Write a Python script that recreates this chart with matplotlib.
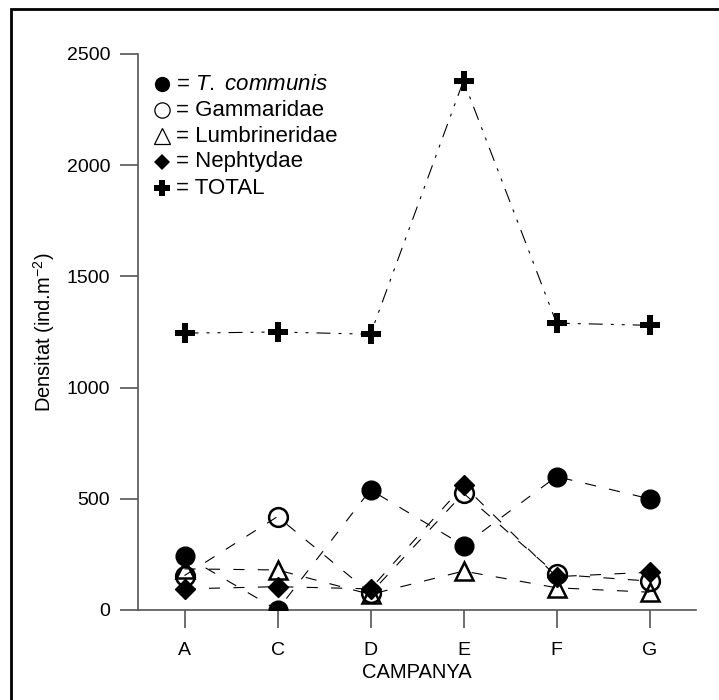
import numpy as np
import matplotlib
matplotlib.use("Agg")
import matplotlib.pyplot as plt
from matplotlib.patches import Rectangle

plt.rcParams['font.family'] = ['Liberation Sans', 'DejaVu Sans']
plt.rcParams['mathtext.fontset'] = 'custom'
plt.rcParams['mathtext.rm'] = 'Liberation Sans'
plt.rcParams['mathtext.it'] = 'Liberation Sans:italic'

# campanyes de mostreig
campanyes = ['A', 'C', 'D', 'E', 'F', 'G']

# densitats (ind.m-2)
t_communis = [245, 0, 540, 290, 600, 500]
gammaridae = [155, 420, 75, 525, 160, 130]
lumbrineridae = [185, 180, 70, 175, 100, 80]
nephtydae = [95, 105, 95, 560, 150, 170]
total = [1245, 1250, 1240, 2380, 1290, 1280]

fig = plt.figure(figsize=(7.19, 7.0), dpi=100)
ax = fig.add_axes([138/719, 1 - 610/700, 558/719, 556/700])

x = np.arange(len(campanyes))
dash = (10, 12)
dashdotdot = (12.6, 7.2, 2.7, 7.2, 2.7, 7.2)
lw = 0.8

ax.plot(x, lumbrineridae, color='k', lw=lw, dashes=dash, marker='^', ms=13,
        mfc='none', mec='k', mew=1.8, zorder=3)
ax.plot(x, gammaridae, color='k', lw=lw, dashes=dash, marker='o', ms=13.5,
        mfc='none', mec='k', mew=1.8, zorder=4)
ax.plot(x, nephtydae, color='k', lw=lw, dashes=dash, marker='D', ms=10,
        mfc='k', mec='k', zorder=5)
ax.plot(x, t_communis, color='k', lw=lw, dashes=dash, marker='o', ms=13.5,
        mfc='k', mec='k', zorder=6)
ax.plot(x, total, color='k', lw=lw, dashes=dashdotdot, marker='P', ms=14,
        mfc='k', mec='k', mew=0, zorder=7)

ax.set_xlim(-0.5, 5.5)
ax.set_ylim(0, 2500)
ax.set_xticks(x)
ax.set_xticklabels(campanyes)
ax.set_yticks(np.arange(0, 2501, 500))

for s in ['top', 'right']:
    ax.spines[s].set_visible(False)
for s in ['left', 'bottom']:
    ax.spines[s].set_color('#555555')
    ax.spines[s].set_linewidth(1.2)
ax.tick_params(axis='both', length=13, width=1.2, color='#555555', labelsize=14)
ax.tick_params(axis='x', pad=10)
ax.tick_params(axis='y', pad=7)

ax.set_xlabel('CAMPANYA', fontsize=14.5)
ax.xaxis.label.set_va('center')
ax.xaxis.set_label_coords(0.5, (610 - 672) / 556)
ax.set_ylabel('Densitat (ind.m$^{\\mathregular{-2}}$)', fontsize=14.5)
ax.yaxis.label.set_va('center')
ax.yaxis.set_label_coords((44 - 138) / 558, 0.5)

# llegenda amb simbols
entrades = [
    ('o', 'k', 0, r'= $\mathit{T.\ communis}$'),
    ('o', 'none', 0.9, '= Gammaridae'),
    ('^', 'none', 0.9, '= Lumbrineridae'),
    ('D', 'k', 0, '= Nephtydae'),
    ('P', 'k', 0, '= TOTAL'),
]
mida = {'o': 11, '^': 11, 'D': 8, 'P': 12}
for i, (m, fc, ew, txt) in enumerate(entrades):
    yy = (610 - (84 + 26 * i)) / 556
    ax.plot([(162 - 138) / 558], [yy], marker=m, ms=mida[m], mfc=fc, mec='k',
            mew=ew, transform=ax.transAxes, clip_on=False, ls='none')
    ax.text((176 - 138) / 558, yy, txt, transform=ax.transAxes, fontsize=16,
            va='center', ha='left')

# marc exterior
fig.patches.append(Rectangle((11 / 719, -0.1), 1.2, 1.1 - 9 / 700 + 0.0,
                             transform=fig.transFigure, fill=False,
                             ec='k', lw=2.0))

fig.savefig('out.png', dpi=100)
